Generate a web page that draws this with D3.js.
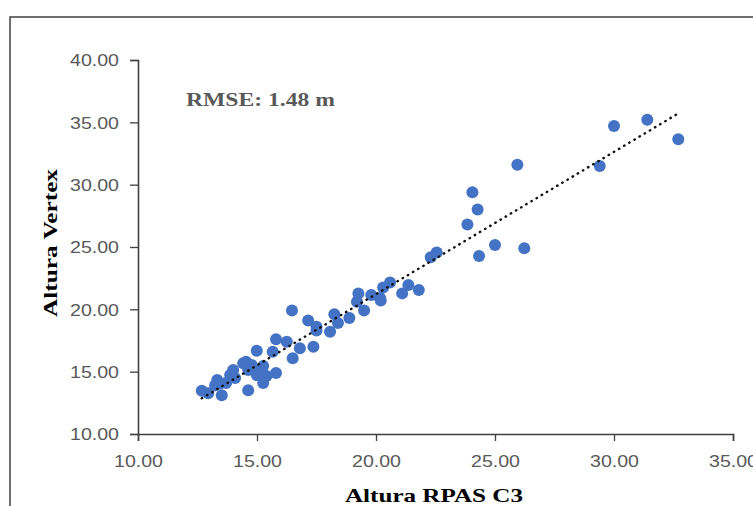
<!DOCTYPE html>
<html><head><meta charset="utf-8">
<script src="https://cdn.jsdelivr.net/npm/d3@7"></script>
<style>body{margin:0;background:#fff}svg{display:block}</style>
</head><body>
<script>
const xVals = [31.4,30.0,32.7,29.4,25.94,24.05,24.27,23.84,25.0,26.23,24.33,22.3,22.55,
  20.59,21.36,21.1,21.8,20.3,19.26,19.8,20.17,20.2,19.2,19.5,18.25,18.88,17.15,18.4,17.5,
  16.47,17.37,16.8,16.5,16.25,15.8,15.66,14.99,14.54,14.78,15.26,15.8,15.4,15.26,14.99,
  14.63,14.63,14.0,13.87,14.08,13.33,13.45,13.24,13.52,12.95,12.68,13.7,17.5,18.07,15.2,14.42];
const yVals = [35.2,34.7,33.65,31.5,31.6,29.4,28.0,26.8,25.16,24.9,24.27,24.17,24.55,
  22.16,21.95,21.28,21.55,21.75,21.28,21.15,20.9,20.7,20.6,19.9,19.6,19.3,19.1,18.9,18.6,
  19.9,17.0,16.87,16.07,17.4,17.6,16.6,16.68,15.8,15.53,15.45,14.9,14.65,14.1,14.73,
  15.13,13.5,15.13,14.73,14.5,14.33,14.06,13.9,13.1,13.26,13.47,14.1,18.3,18.2,15.13,15.67];
const xTicks = [10,15,20,25,30,35];
const yTicks = [10,15,20,25,30,35,40];
const xTitle = "Altura RPAS C3";
const yTitle = "Altura Vertex";
const note = "RMSE: 1.48 m";

const W = 753, H = 506;
const svg = d3.select("body").append("svg").attr("width", W).attr("height", H);
svg.append("rect").attr("x", 10).attr("y", 17).attr("width", 770).attr("height", 520)
  .attr("fill", "#fff").attr("stroke", "#404040").attr("stroke-width", 1.5);

const x = d3.scaleLinear().domain([10, 35]).range([138, 733]);
const y = d3.scaleLinear().domain([10, 40]).range([434, 60]);

const tickFont = "'Liberation Sans Narrow', 'Liberation Sans', Arial, sans-serif";
const gx = svg.append("g").attr("transform", `translate(0,${y(10)})`)
  .call(d3.axisBottom(x).tickValues(xTicks).tickFormat(d3.format(".2f")).tickSizeOuter(0).tickSize(7));
const gy = svg.append("g").attr("transform", `translate(${x(10)},0)`)
  .call(d3.axisLeft(y).tickValues(yTicks).tickFormat(d3.format(".2f")).tickSizeOuter(0).tickSize(8));
[gx, gy].forEach(g => {
  g.select(".domain").attr("stroke", "#404040").attr("stroke-width", 1.6);
  g.selectAll(".tick line").attr("stroke", "#404040").attr("stroke-width", 1.3);
  g.selectAll(".tick text").attr("fill", "#595959").style("font-family", tickFont)
    .style("font-size", "17px").attr("textLength", 49).attr("lengthAdjust", "spacingAndGlyphs");
});
gx.selectAll(".tick text").attr("y", 15).attr("dy", "1.05em");
gy.selectAll(".tick text").attr("x", -19).attr("dy", "0.34em");

// linear trendline from data
const n = xVals.length;
const mx = d3.mean(xVals), my = d3.mean(yVals);
let sxy = 0, sxx = 0;
for (let i = 0; i < n; i++) { sxy += (xVals[i]-mx)*(yVals[i]-my); sxx += (xVals[i]-mx)**2; }
const b = sxy/sxx, a = my - b*mx;
const x0 = d3.min(xVals), x1 = d3.max(xVals);

const pts = xVals.map((v, i) => [v, yVals[i]]);
svg.append("g").selectAll("circle").data(pts).join("circle")
  .attr("cx", d => x(d[0])).attr("cy", d => y(d[1])).attr("r", 6)
  .attr("fill", "#4472C4");

svg.append("line").attr("x1", x(x0)).attr("y1", y(a + b*x0))
  .attr("x2", x(x1)).attr("y2", y(a + b*x1))
  .attr("stroke", "#111").attr("stroke-width", 2.4)
  .attr("stroke-linecap", "round")
  .attr("stroke-dasharray", "0.5,5.5");

const serif = "'Liberation Serif', 'Times New Roman', serif";
svg.append("text").attr("x", 186).attr("y", 106).text(note)
  .attr("fill", "#595959").style("font-family", serif).style("font-weight", "bold")
  .style("font-size", "19px").attr("textLength", 149).attr("lengthAdjust", "spacingAndGlyphs");
svg.append("text").attr("x", 434).attr("y", 502).attr("text-anchor", "middle").text(xTitle)
  .attr("fill", "#000").style("font-family", serif).style("font-weight", "bold")
  .style("font-size", "19px").attr("textLength", 178).attr("lengthAdjust", "spacingAndGlyphs");
svg.append("text").attr("transform", `translate(57,243) rotate(-90)`).attr("text-anchor", "middle").text(yTitle)
  .attr("fill", "#000").style("font-family", serif).style("font-weight", "bold")
  .style("font-size", "19px").attr("textLength", 148).attr("lengthAdjust", "spacingAndGlyphs");
</script>
</body></html>
